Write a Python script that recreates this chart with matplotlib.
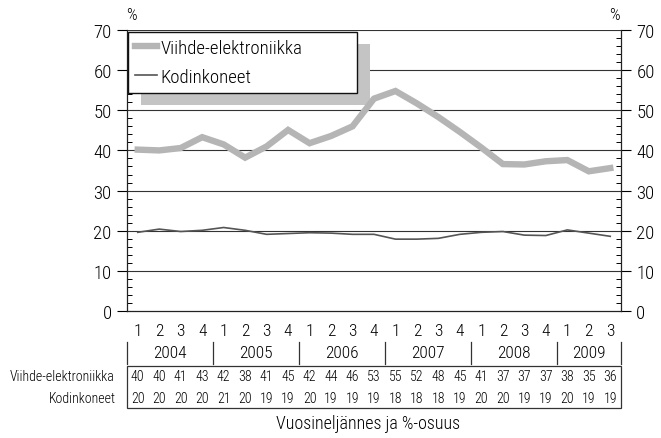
import numpy as np
import matplotlib
matplotlib.use('Agg')
import matplotlib.pyplot as plt
import matplotlib.transforms as mtransforms
from matplotlib.patches import Rectangle
from matplotlib.ticker import MultipleLocator

plt.rcParams['font.family'] = ['Roboto Condensed', 'DejaVu Sans']
plt.rcParams['font.weight'] = 'light'

# data
years = ['2004', '2005', '2006', '2007', '2008', '2009']
quarters = [1, 2, 3, 4] * 5 + [1, 2, 3]
viihde = [40.2, 40.0, 40.6, 43.3, 41.5, 38.2, 41.0, 45.1, 41.8, 43.6, 46.0, 52.9,
          54.8, 51.7, 48.3, 44.6, 40.7, 36.6, 36.5, 37.3, 37.6, 34.8, 35.6]
kodin = [19.6, 20.4, 19.8, 20.1, 20.8, 20.1, 19.1, 19.3, 19.5, 19.4, 19.1, 19.1,
         17.9, 17.9, 18.1, 19.1, 19.6, 19.8, 18.9, 18.8, 20.2, 19.4, 18.6]
viihde_tbl = [40, 40, 41, 43, 42, 38, 41, 45, 42, 44, 46, 53,
              55, 52, 48, 45, 41, 37, 37, 37, 38, 35, 36]
kodin_tbl = [20, 20, 20, 20, 21, 20, 19, 19, 20, 19, 19, 19,
             18, 18, 18, 19, 20, 20, 19, 19, 20, 19, 19]
names = ['Viihde-elektroniikka', 'Kodinkoneet']

W, H = 661, 439
fig = plt.figure(figsize=(W / 100, H / 100), dpi=100)
ax = fig.add_axes([127 / W, 1 - 312 / H, (621 - 127) / W, (312 - 31) / H])

x = np.arange(len(viihde))
ax.plot(x, viihde, color='#b5b5b5', lw=4.6, solid_joinstyle='miter', zorder=5, label=names[0])
ax.plot(x, kodin, color='#555555', lw=1.2, zorder=5, label=names[1])

ax.set_xlim(-0.5, len(x) - 0.5)
ax.set_ylim(0, 70)
ax.set_xticks([])
ax.yaxis.set_major_locator(MultipleLocator(10))
ax.yaxis.set_minor_locator(MultipleLocator(2))
ax.tick_params(axis='y', which='major', direction='out', length=7, width=0.8,
               labelsize=13.5, pad=4, left=True, right=True, labelleft=True, labelright=True)
ax.tick_params(axis='y', which='minor', direction='in', length=3.5, width=0.7,
               left=True, right=True)
for y in range(10, 71, 10):
    ax.axhline(y, color='#333333', lw=0.8, zorder=1)
ax.spines['top'].set_visible(False)
for s in ['left', 'right', 'bottom']:
    ax.spines[s].set_linewidth(0.9)
    ax.spines[s].set_color('#222222')

fig.text(131 / W, 1 - 16 / H, '%', fontsize=12, ha='center', va='center')
fig.text(614 / W, 1 - 16 / H, '%', fontsize=12, ha='center', va='center')

# legend box: about 230 x 63 px in the upper left corner
leg = ax.legend(loc='upper left', bbox_to_anchor=(0.002, 0.994, 0.464, 0.0), mode='expand',
                borderaxespad=0, fontsize=13.5, frameon=True, fancybox=False, framealpha=1,
                edgecolor='#111111', handlelength=1.15, handletextpad=0.2,
                labelspacing=0.6, borderpad=0.38)
leg.get_frame().set_linewidth(1.0)
leg.set_zorder(10)

# shadow box behind legend, offset right/down
fig.canvas.draw()
bb = leg.get_window_extent()
shadow = Rectangle((bb.x0 + 13, bb.y0 - 12), bb.width, bb.height, transform=None,
                   facecolor='#c4c4c4', edgecolor='none', zorder=4)
ax.add_artist(shadow)

# table under the plot
tr = mtransforms.blended_transform_factory(ax.transData, fig.transFigure)
fy = lambda py: 1 - py / H
for i, q in enumerate(quarters):
    ax.text(i, fy(332), str(q), transform=tr, ha='center', va='center', fontsize=12.5)
    ax.text(i, fy(377), str(viihde_tbl[i]), transform=tr, ha='center', va='center', fontsize=10)
    ax.text(i, fy(399), str(kodin_tbl[i]), transform=tr, ha='center', va='center', fontsize=10)

seps = [-0.5, 3.5, 7.5, 11.5, 15.5, 19.5, len(x) - 0.5]
for s in seps:
    ax.plot([s, s], [fy(343), fy(365)], transform=tr, color='#333333', lw=0.9, clip_on=False)
for k, yr in enumerate(years):
    ax.text((seps[k] + seps[k + 1]) / 2, fy(354), yr, transform=tr, ha='center', va='center', fontsize=12.5)

ax.add_artist(Rectangle((-0.5, fy(409)), len(x), fy(367) - fy(409), transform=tr,
                        facecolor='none', edgecolor='#333333', lw=0.9, clip_on=False))
fig.text(114 / W, fy(377), names[0], ha='right', va='center', fontsize=10)
fig.text(116 / W, fy(399), names[1], ha='right', va='center', fontsize=10)

fig.text(368 / W, fy(424), 'Vuosineljännes ja %-osuus', ha='center', va='center', fontsize=13)

fig.savefig('out.png', dpi=100)
